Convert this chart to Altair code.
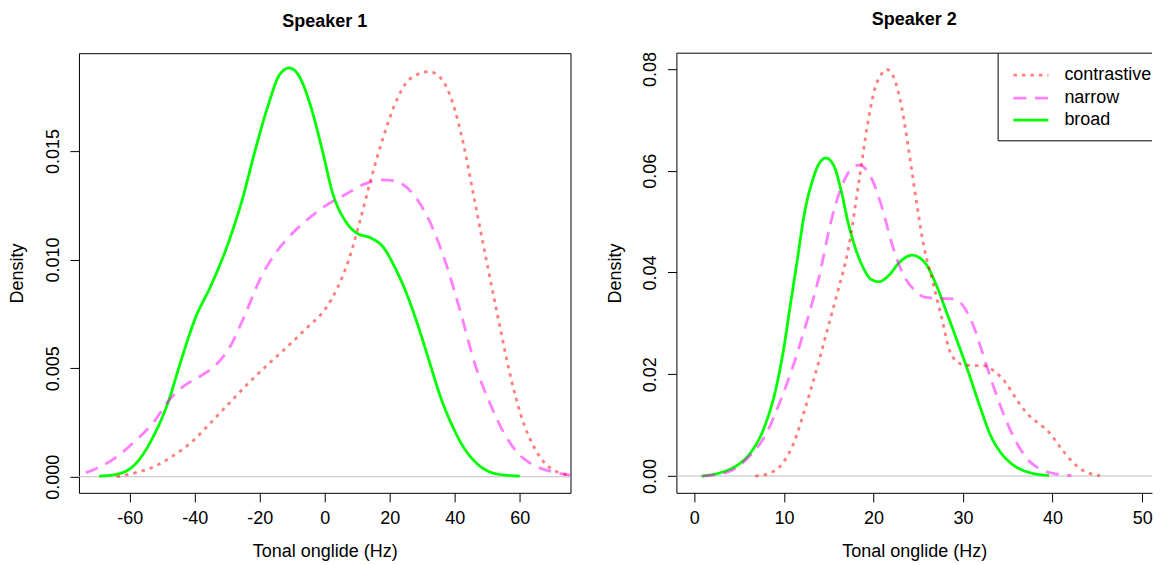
import altair as alt
import pandas as pd

FONT = "Liberation Sans"

categories = ["contrastive", "narrow", "broad"]
line_colors = ["#FF0000", "#FF00FF", "#00FF00"]
line_opacity = [0.5, 0.5, 1.0]
line_dash = [[3.5, 5], [13, 8.5], [1, 0]]
draw_order = ["broad", "narrow", "contrastive"]

# ---------------- Speaker 1 ----------------
s1_contrastive_x = [-64.0, -58.6, -52.7, -46.8, -40.9, -35.0, -29.1, -23.2, -17.4, -11.4, -5.6, 0.3, 3.8,
                    7.4, 10.9, 14.4, 18.0, 21.5, 25.0, 28.6, 32.1, 35.6, 39.2, 42.7, 46.2, 49.7, 53.3,
                    56.8, 60.3, 65.0, 69.7, 75.6, 80.0]
s1_contrastive_y = [0.0, 0.00017, 0.00045, 0.00095, 0.0016, 0.0025, 0.00343, 0.00435, 0.00518, 0.006,
                    0.00684, 0.00775, 0.00866, 0.00999, 0.01181, 0.0138, 0.01563, 0.01712, 0.01812,
                    0.01853, 0.01865, 0.01837, 0.01729, 0.0153, 0.01264, 0.00999, 0.00733, 0.00485,
                    0.00285, 0.0012, 0.00037, 0.00007, 0.00002]

s1_narrow_x = [-80.0, -75.6, -70.4, -64.5, -58.6, -52.7, -48.0, -43.3, -38.6, -33.8, -29.1, -24.4, -19.7,
               -15.0, -10.3, -5.6, 0.3, 6.2, 12.1, 18.0, 22.7, 27.4, 32.1, 36.9, 41.6, 46.2, 50.9, 55.7,
               60.3, 65.0, 70.9, 75.6, 80.0]
s1_narrow_y = [0.00003, 0.0001, 0.00037, 0.00086, 0.0016, 0.0025, 0.0035, 0.00418, 0.0046, 0.0051, 0.006,
               0.0075, 0.00916, 0.01032, 0.01115, 0.01181, 0.01248, 0.01298, 0.01347, 0.01367, 0.01356,
               0.01298, 0.01181, 0.00999, 0.00767, 0.00518, 0.00335, 0.00186, 0.00095, 0.00048, 0.0002,
               0.00007, 0.00002]

s1_broad_x = [-69.4, -64.5, -58.6, -52.7, -48.0, -44.5, -39.8, -35.0, -30.3, -25.6, -20.9, -17.4, -13.8,
              -10.9, -7.9, -4.4, -0.9, 2.6, 6.2, 9.7, 14.4, 18.0, 21.5, 25.0, 28.6, 32.1, 35.6, 39.2,
              42.7, 47.4, 53.3, 60.0]
s1_broad_y = [0.00003, 0.0001, 0.00053, 0.00186, 0.0035, 0.0052, 0.0073, 0.0088, 0.0105, 0.01264, 0.0153,
              0.0171, 0.01853, 0.01882, 0.01845, 0.0171, 0.01513, 0.01298, 0.01181, 0.01123, 0.01098,
              0.01057, 0.00966, 0.0085, 0.0070, 0.00534, 0.00368, 0.00236, 0.00136, 0.00053, 0.00012,
              0.00003]

# ---------------- Speaker 2 ----------------
s2_contrastive_x = [6.8, 8.3, 9.9, 11.1, 12.3, 13.6, 14.8, 16.0, 17.2, 18.4, 19.3, 20.1, 20.9, 21.5, 22.3,
                    23.1, 23.9, 24.8, 25.6, 26.6, 27.6, 28.6, 29.8, 31.1, 32.3, 33.5, 34.7, 36.0, 37.2,
                    38.4, 39.6, 40.8, 42.1, 43.3, 45.3]
s2_contrastive_y = [0.0, 0.0005, 0.0026, 0.0065, 0.0129, 0.0206, 0.0284, 0.0362, 0.0447, 0.0581, 0.0687,
                    0.0758, 0.079, 0.0799, 0.0782, 0.0729, 0.0645, 0.0539, 0.0454, 0.0383, 0.0312, 0.0242,
                    0.022, 0.0217, 0.0217, 0.0206, 0.0185, 0.015, 0.0122, 0.0104, 0.0086, 0.0058, 0.003,
                    0.0012, 0.0001]

s2_narrow_x = [0.9, 3.8, 6.2, 7.9, 9.5, 11.1, 12.7, 14.0, 15.2, 16.4, 17.4, 18.4, 19.7, 20.9, 22.1, 23.3,
               24.6, 25.8, 27.4, 29.0, 30.3, 31.1, 32.3, 33.5, 34.7, 36.0, 37.2, 38.8, 40.4, 42.1]
s2_narrow_y = [0.0, 0.0008, 0.004, 0.0079, 0.0143, 0.022, 0.0312, 0.0397, 0.0496, 0.0567, 0.0601, 0.0611,
               0.0588, 0.0531, 0.0454, 0.0397, 0.0365, 0.0351, 0.0349, 0.0348, 0.0327, 0.0298, 0.0235,
               0.0171, 0.0114, 0.0065, 0.0033, 0.0012, 0.0004, 0.0001]

s2_broad_x = [0.8, 3.0, 4.6, 6.2, 7.9, 9.1, 9.9, 10.7, 11.5, 12.3, 13.2, 14.0, 14.7, 15.6, 16.4, 17.2, 18.0,
              18.9, 19.7, 20.6, 21.7, 22.9, 24.3, 25.8, 27.0, 28.2, 29.4, 30.7, 31.9, 33.1, 34.3, 35.5,
              37.2, 39.6]
s2_broad_y = [0.0, 0.0007, 0.0019, 0.0044, 0.01, 0.0171, 0.0242, 0.0334, 0.0425, 0.0517, 0.0581, 0.0616,
              0.0625, 0.0609, 0.056, 0.0496, 0.0447, 0.0408, 0.0387, 0.0382, 0.0394, 0.042, 0.0434, 0.0418,
              0.0376, 0.032, 0.0263, 0.0199, 0.0136, 0.0079, 0.0044, 0.0023, 0.0008, 0.0001]

s1_x_ticks = [-60, -40, -20, 0, 20, 40, 60]
s1_y_ticks = [0.0, 0.005, 0.010, 0.015]
s2_x_ticks = [0, 10, 20, 30, 40, 50]
s2_y_ticks = [0.0, 0.02, 0.04, 0.06, 0.08]

titles = ["Speaker 1", "Speaker 2"]
x_title = "Tonal onglide (Hz)"
y_title = "Density"

W1, W2, H = 492, 476, 440


def long_df(series):
    rows = []
    for cat, (xs, ys) in series.items():
        for xv, yv in zip(xs, ys):
            rows.append({"x": xv, "density": yv, "type": cat})
    return pd.DataFrame(rows)


def panel(series, title, xdom, ydom, xticks, yticks, yfmt, width, second):
    df = long_df(series)
    x_enc = alt.X(
        "x:Q",
        scale=alt.Scale(domain=xdom, nice=False, zero=False),
        axis=alt.Axis(values=xticks, labelExpr="'' + datum.value", title=x_title,
                      titleX=width / 2, titleY=58.5, titleBaseline="middle", titleAlign="center",
                      domain=second, domainColor="black", domainWidth=1, grid=False,
                      tickSize=9, tickColor="black", tickWidth=1, labelPadding=8,
                      labelFont=FONT, labelFontSize=18, labelColor="black",
                      labelOverlap=False, labelFlush=False,
                      titleFont=FONT, titleFontSize=18, titleFontWeight="normal", titleColor="black"),
    )
    y_enc = alt.Y(
        "density:Q",
        scale=alt.Scale(domain=ydom, nice=False, zero=False),
        axis=alt.Axis(values=yticks, format=yfmt, title=y_title, labelAngle=270,
                      labelAlign="center", labelBaseline="middle", labelPadding=16.6,
                      titleX=-61, titleY=H / 2, titleAngle=270, titleBaseline="middle",
                      titleAlign="center", domain=second, domainColor="black", domainWidth=1,
                      grid=False, tickSize=9, tickColor="black", tickWidth=1,
                      labelFont=FONT, labelFontSize=18, labelColor="black",
                      labelOverlap=False, labelFlush=False,
                      titleFont=FONT, titleFontSize=18, titleFontWeight="normal", titleColor="black"),
    )
    zero = alt.Chart(pd.DataFrame({"density": [0.0]})).mark_rule(
        color="#BEBEBE", strokeWidth=1
    ).encode(y=y_enc)
    layers = [zero]
    for cat in draw_order:
        i = categories.index(cat)
        layers.append(
            alt.Chart(df).transform_filter(alt.datum.type == cat).mark_line(
                color=line_colors[i], strokeOpacity=line_opacity[i], strokeWidth=2.8,
                strokeDash=line_dash[i], strokeCap="butt", interpolate="monotone", clip=True
            ).encode(x=x_enc, y=y_enc)
        )
    one = pd.DataFrame({"k": [0]})
    if second:
        # top frame line (right edge is off-page as in the original)
        layers.append(alt.Chart(one).mark_rule(color="black", strokeWidth=1).encode(
            x=alt.value(0), x2=alt.value(width), y=alt.value(0)))
        # legend box, clipped at the plot edge
        lx = 322
        layers.append(alt.Chart(one).mark_rect(fill="white", stroke="black", strokeWidth=1, clip=True).encode(
            x=alt.value(lx), x2=alt.value(width + 20), y=alt.value(0), y2=alt.value(87.7)))
        row_y = [22, 45, 67]
        for i, cat in enumerate(categories):
            layers.append(alt.Chart(one).mark_rule(
                color=line_colors[i], strokeOpacity=line_opacity[i], strokeWidth=2.8,
                strokeDash=line_dash[i], strokeCap="butt"
            ).encode(x=alt.value(lx + 15.3), x2=alt.value(lx + 50.3), y=alt.value(row_y[i])))
            layers.append(alt.Chart(pd.DataFrame({"label": [cat]})).mark_text(
                align="left", baseline="middle", font=FONT, fontSize=18, color="black"
            ).encode(x=alt.value(lx + 66.3), y=alt.value(row_y[i] - 0.5), text="label:N"))
    ch = alt.layer(*layers).properties(
        width=width, height=H,
        title=alt.TitleParams(title, font=FONT, fontSize=18, fontWeight="bold", color="black",
                              anchor="middle", baseline="alphabetic", offset=8.6),
    )
    if not second:
        ch = ch.properties(view=alt.ViewBackground(stroke="black", strokeWidth=1))
    return ch


p1 = panel({"contrastive": (s1_contrastive_x, s1_contrastive_y),
            "narrow": (s1_narrow_x, s1_narrow_y),
            "broad": (s1_broad_x, s1_broad_y)},
           titles[0], [-75.6, 75.6], [-0.00074, 0.0195], s1_x_ticks, s1_y_ticks, ".3f", W1, False)
p2 = panel({"contrastive": (s2_contrastive_x, s2_contrastive_y),
            "narrow": (s2_narrow_x, s2_narrow_y),
            "broad": (s2_broad_x, s2_broad_y)},
           titles[1], [-2.0, 51.1], [-0.0033, 0.0831], s2_x_ticks, s2_y_ticks, ".2f", W2, True)

chart = alt.hconcat(p1, p2, spacing=106, bounds="flush").properties(
    padding={"left": 0, "top": 2, "right": 0, "bottom": 0},
    background="white",
).configure_view(stroke=None)

chart.save("out.html", embed_options={"renderer": "svg", "actions": False})
